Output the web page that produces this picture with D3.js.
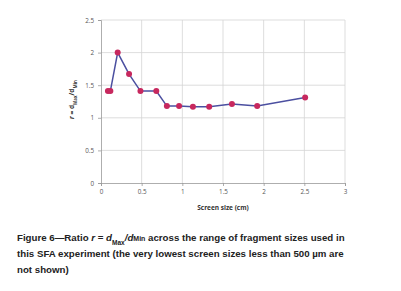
<!DOCTYPE html>
<html>
<head>
<meta charset="utf-8">
<script src="https://cdn.jsdelivr.net/npm/d3@7"></script>
<style>
  body { margin: 0; background: #fff; }
  svg { display: block; }
</style>
</head>
<body>
<div id="chart"></div>
<script>
const screenSize = [0.085, 0.115, 0.205, 0.345, 0.485, 0.68, 0.81, 0.96, 1.13, 1.33, 1.61, 1.92, 2.51];
const ratio = [1.41, 1.41, 2.0, 1.67, 1.41, 1.41, 1.18, 1.18, 1.17, 1.17, 1.21, 1.18, 1.31];
const xTicks = [0, 0.5, 1, 1.5, 2, 2.5, 3];
const yTicks = [0, 0.5, 1, 1.5, 2, 2.5];

const W = 401, H = 291;
const margins = {top: 20, right: 56, bottom: 108, left: 101};
const width = 345 - margins.left;
const height = 183 - margins.top;

const root = d3.select("#chart").append("svg")
    .attr("width", W).attr("height", H);

const svg = root.append("g").attr("transform", `translate(${margins.left},${margins.top})`);

const x = d3.scaleLinear().domain([0, 3]).range([0, width]);
const y = d3.scaleLinear().domain([0, 2.5]).range([height, 0]);

// gridlines
svg.selectAll(".vgrid").data(xTicks.slice(1)).enter().append("line")
    .attr("x1", d => x(d)).attr("x2", d => x(d))
    .attr("y1", 0).attr("y2", height)
    .style("stroke", "#d4d4d4").style("stroke-width", 0.8);
svg.selectAll(".hgrid").data(yTicks.slice(1)).enter().append("line")
    .attr("x1", 0).attr("x2", width)
    .attr("y1", d => y(d)).attr("y2", d => y(d))
    .style("stroke", "#d4d4d4").style("stroke-width", 0.8);

// axes
const xAxis = svg.append("g").attr("transform", `translate(0,${height})`)
    .call(d3.axisBottom(x).tickValues(xTicks).tickSize(3).tickPadding(4).tickFormat(d3.format("")));
const yAxis = svg.append("g")
    .call(d3.axisLeft(y).tickValues(yTicks).tickSize(3).tickPadding(4).tickFormat(d3.format("")));
[xAxis, yAxis].forEach(a => {
    a.select(".domain").style("stroke", "#999").style("stroke-width", 0.8);
    a.selectAll(".tick line").style("stroke", "#999").style("stroke-width", 0.8);
    a.selectAll("text").style("font-family", "'Open Sans', sans-serif").style("font-size", "6.3px").style("fill", "#555");
});

// line + markers
const pts = screenSize.map((s, i) => [s, ratio[i]]);
svg.append("path")
    .datum(pts)
    .attr("d", d3.line().x(d => x(d[0])).y(d => y(d[1])))
    .style("fill", "none").style("stroke", "#4b4fa0").style("stroke-width", 1.5);
svg.selectAll("circle").data(pts).enter().append("circle")
    .attr("cx", d => x(d[0])).attr("cy", d => y(d[1]))
    .attr("r", 3)
    .style("fill", "#c7285e");

// X-Axis Label
svg.append("text")
    .attr("x", width / 2)
    .attr("y", height + 27)
    .attr("text-anchor", "middle")
    .style("font-family", "'Open Sans', sans-serif")
    .style("font-size", "6.5px").style("font-weight", "bold").style("fill", "#333")
    .text("Screen size (cm)");

// Y-Axis Label
const yl = svg.append("text")
    .attr("transform", "rotate(-90)")
    .attr("y", -27)
    .attr("x", -height / 2 + 2)
    .attr("text-anchor", "middle")
    .style("font-family", "'Open Sans', sans-serif")
    .style("font-size", "6.5px").style("font-weight", "bold").style("fill", "#333");
yl.append("tspan").style("font-style", "italic").text("r");
yl.append("tspan").text(" = d");
yl.append("tspan").attr("baseline-shift", "sub").style("font-size", "4.5px").text("Max");
yl.append("tspan").text("/d");
yl.append("tspan").attr("baseline-shift", "sub").style("font-size", "4.5px").text("Min");

// Caption
const cap = root.append("g").style("font-family", "'Liberation Sans', Arial, sans-serif")
    .style("font-size", "9.7px").style("font-weight", "bold").style("fill", "#222");
const l1 = cap.append("text").attr("x", 17).attr("y", 241);
l1.append("tspan").text("Figure 6\u2014Ratio ");
l1.append("tspan").style("font-style", "italic").text("r");
l1.append("tspan").text(" = ");
l1.append("tspan").style("font-style", "italic").text("d");
l1.append("tspan").attr("baseline-shift", "sub").style("font-size", "6.5px").text("Max");
l1.append("tspan").style("font-style", "italic").text("/d");
l1.append("tspan").style("font-size", "7px").text("Min");
l1.append("tspan").text(" across the range of fragment sizes used in");
cap.append("text").attr("x", 17).attr("y", 257)
    .text("this SFA experiment (the very lowest screen sizes less than 500 \u00b5m are");
cap.append("text").attr("x", 17).attr("y", 273).text("not shown)");
</script>
</body>
</html>
